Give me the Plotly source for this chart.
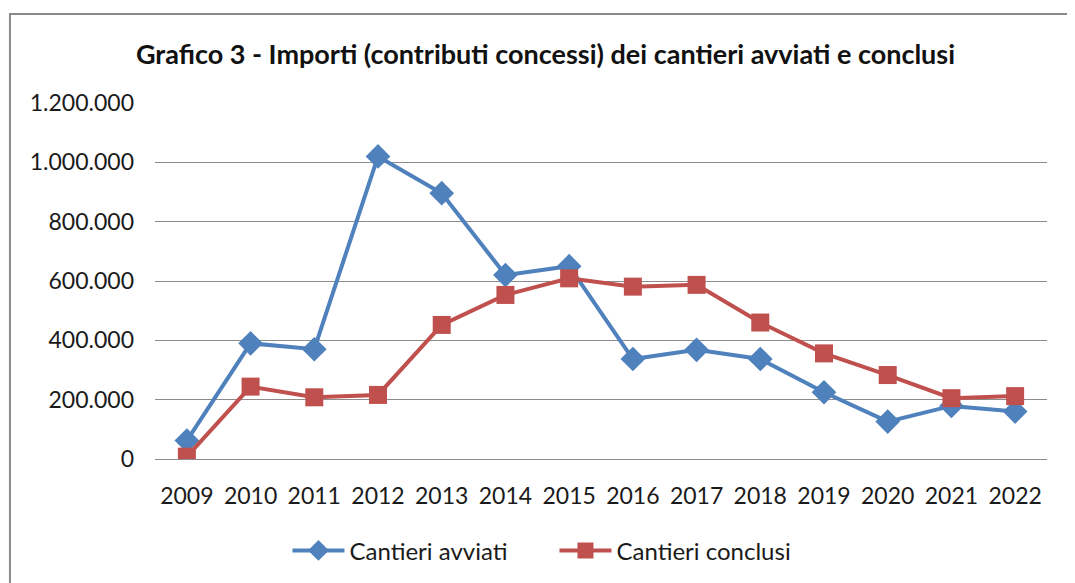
import plotly.graph_objects as go

# Data
anni = ["2009", "2010", "2011", "2012", "2013", "2014", "2015",
        "2016", "2017", "2018", "2019", "2020", "2021", "2022"]
cantieri_avviati = [62000, 390000, 370000, 1020000, 896000, 620000, 650000,
                    337000, 368000, 337000, 225000, 126000, 179000, 160000]
cantieri_conclusi = [8000, 244000, 208000, 216000, 452000, 553000, 609000,
                     581000, 587000, 460000, 356000, 283000, 205000, 212000]
y_ticks = [0, 200000, 400000, 600000, 800000, 1000000, 1200000]
y_labels = ["0", "200.000", "400.000", "600.000", "800.000", "1.000.000", "1.200.000"]

BLUE = "#4F81BD"
RED = "#C0504D"
GRID = "#8C8C8C"
FONT = "Lato, 'Open Sans', sans-serif"

fig = go.Figure()
fig.add_trace(go.Scatter(
    x=anni, y=cantieri_avviati, name="Cantieri avviati", mode="lines+markers",
    line=dict(color=BLUE, width=4),
    marker=dict(symbol="diamond", size=19, color=BLUE),
))
fig.add_trace(go.Scatter(
    x=anni, y=cantieri_conclusi, name="Cantieri conclusi", mode="lines+markers",
    line=dict(color=RED, width=4),
    marker=dict(symbol="square", size=18, color=RED),
))

# page body has an 8px margin, so margins are shifted to compensate
fig.update_layout(
    width=1075, height=583,
    paper_bgcolor="white", plot_bgcolor="white",
    margin=dict(l=147, r=36, t=95, b=132),
    font=dict(family=FONT, size=23, color="#1a1a1a"),
    title=dict(text="<b>Grafico 3 - Importi (contributi concessi) dei cantieri avviati e conclusi</b>",
               x=0.5, xanchor="center", y=0.92, yanchor="middle",
               font=dict(family=FONT, size=27, color="#111111")),
    showlegend=True,
    legend=dict(orientation="h", x=0.1485, xanchor="left", y=-0.258, yanchor="middle",
                font=dict(family=FONT, size=24), itemwidth=52, entrywidth=200,
                tracegroupgap=0),
    shapes=[dict(type="rect", xref="paper", yref="paper",
                 x0=-0.1626, x1=1.06, y0=-0.4, y1=1.25,
                 line=dict(color="#8A8A8A", width=2), layer="below")],
)
fig.update_xaxes(type="category", range=[-0.5, 13.5], showgrid=False,
                 showline=False, zeroline=False, ticks="", ticklabelstandoff=21,
                 tickfont=dict(family=FONT, size=23))
fig.update_yaxes(range=[0, 1200000], tickvals=y_ticks, ticktext=y_labels,
                 showgrid=True, gridcolor=GRID, gridwidth=1, zeroline=True,
                 zerolinecolor=GRID, zerolinewidth=1, showline=False, ticks="",
                 ticklabelstandoff=20, tickfont=dict(family=FONT, size=23))

fig.write_html("out.html")
